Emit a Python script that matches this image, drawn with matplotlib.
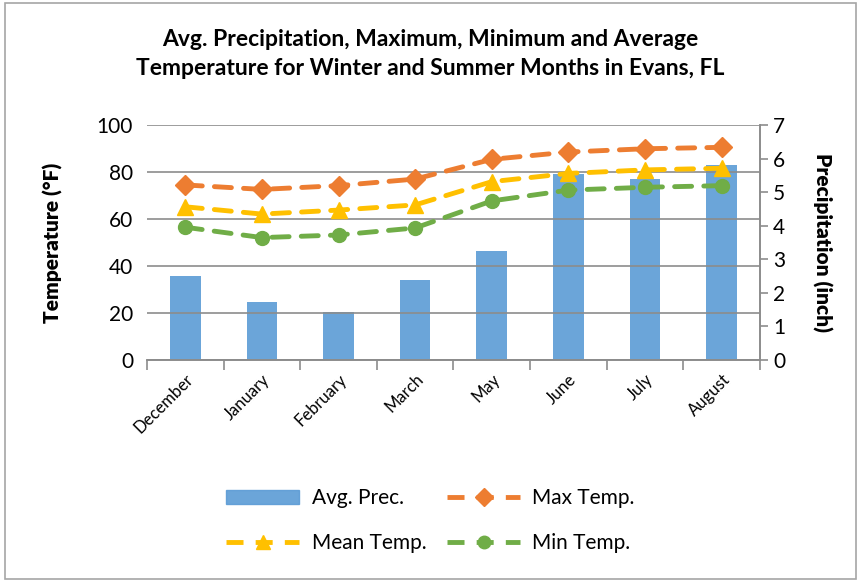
import matplotlib.pyplot as plt
import matplotlib.patches as patches
from matplotlib.lines import Line2D
import numpy as np

plt.rcParams['font.family'] = ['Lato', 'DejaVu Sans']

months = ['December', 'January', 'February', 'March', 'May', 'June', 'July', 'August']
avg_prec = [2.51, 1.72, 1.43, 2.38, 3.25, 5.53, 5.39, 5.81]
max_temp = [74.5, 72.6, 74.2, 77.0, 85.4, 88.5, 89.9, 90.5]
mean_temp = [65.2, 62.1, 63.8, 66.0, 75.9, 79.4, 80.9, 81.6]
min_temp = [56.5, 52.1, 53.2, 56.2, 67.7, 72.3, 73.5, 74.2]

blue = '#5B9BD5'
orange = '#ED7D31'
yellow = '#FFC000'
green = '#70AD47'
gray = '#8C8C8C'

fig = plt.figure(figsize=(8.61, 5.82), dpi=100)
fig.patches.append(patches.Rectangle((0.006, 0.005), 0.988, 0.99, transform=fig.transFigure,
                                     fill=False, edgecolor='#A6A6A6', linewidth=1.2))

ax = fig.add_axes([0.1707, 0.3814, 0.712, 0.4038])
ax2 = ax.twinx()

x = np.arange(len(months))

# bars on the precipitation axis
ax2.bar(x, avg_prec, 0.4, color=blue, alpha=0.9, label='Avg. Prec.', zorder=2)
ax2.set_ylim(0, 7)
ax2.set_yticks(range(0, 8))
ax2.tick_params(axis='y', labelsize=15, length=6, color=gray, width=1.2)

# temperature lines
dash = (0, (3.5, 2.5))
ax.plot(x, max_temp, color=orange, marker='D', markersize=10, label='Max Temp.',
        linestyle=dash, linewidth=3.5, dash_capstyle='round')
ax.plot(x, mean_temp, color=yellow, marker='^', markersize=11, label='Mean Temp.',
        linestyle=dash, linewidth=3.5, dash_capstyle='round')
ax.plot(x, min_temp, color=green, marker='o', markersize=10, label='Min Temp.',
        linestyle=dash, linewidth=3.5, dash_capstyle='round')

ax.set_zorder(ax2.get_zorder() + 1)
ax.patch.set_visible(False)

ax.set_ylim(0, 100)
ax.set_yticks(range(0, 101, 20))
ax.set_xlim(-0.5, len(months) - 0.5)
ax.grid(axis='y', color=gray, linewidth=1.2)
ax.set_axisbelow(True)
ax.tick_params(axis='y', labelsize=15, length=0, pad=10)

ax.set_xticks(x)
ax.set_xticklabels(months, rotation=45, ha='right', rotation_mode='anchor', fontsize=12)
ax.set_xticks(np.arange(-0.5, len(months)), minor=True)
ax.tick_params(axis='x', which='major', length=0, pad=8)
ax.tick_params(axis='x', which='minor', length=7, color=gray, width=1.2)

for a in (ax, ax2):
    for s in ('top', 'left'):
        a.spines[s].set_visible(False)
    a.spines['bottom'].set_color(gray)
    a.spines['bottom'].set_linewidth(1.2)
    a.spines['right'].set_color(gray)
    a.spines['right'].set_linewidth(1.2)

ax.set_ylabel('Temperature (°F)', fontsize=15, fontweight='heavy', labelpad=24)
ax2.set_ylabel('Precipitation (inch)', fontsize=15, fontweight='heavy', rotation=-90, labelpad=34)

fig.suptitle('Avg. Precipitation, Maximum, Minimum and Average\nTemperature for Winter and Summer Months in Evans, FL',
             fontsize=16.5, fontweight='bold', y=0.95, linespacing=1.45)

handles = [
    patches.Patch(color=blue, alpha=0.9),
    Line2D([], [], color=yellow, marker='^', markersize=10, linestyle=dash, linewidth=3.5),
    Line2D([], [], color=orange, marker='D', markersize=9, linestyle=dash, linewidth=3.5),
    Line2D([], [], color=green, marker='o', markersize=9, linestyle=dash, linewidth=3.5),
]
labels = ['Avg. Prec.', 'Mean Temp.', 'Max Temp.', 'Min Temp.']
fig.legend(handles, labels, loc='center', bbox_to_anchor=(0.5, 0.105), ncol=2, frameon=False,
           fontsize=15, handlelength=3.5, columnspacing=1.0, labelspacing=1.2, handletextpad=0.6)

fig.savefig('out.png', dpi=100)
